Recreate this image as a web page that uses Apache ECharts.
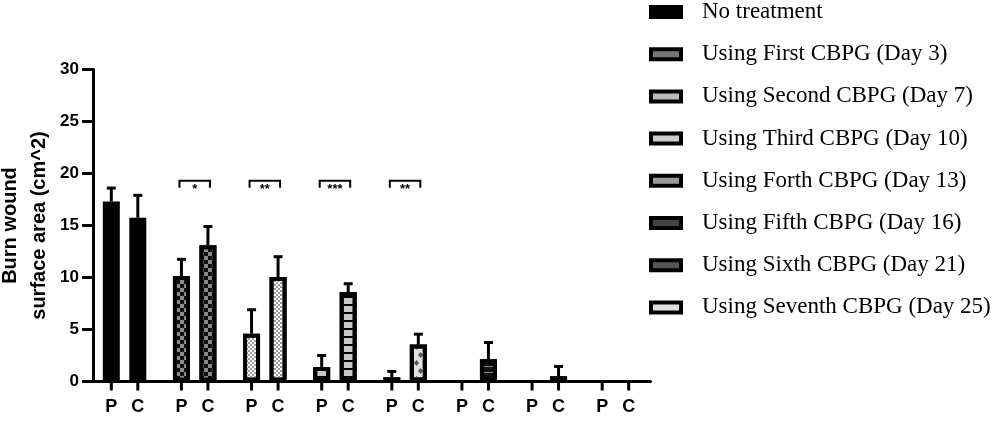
<!DOCTYPE html>
<html><head><meta charset="utf-8">
<script src="https://cdn.jsdelivr.net/npm/echarts@6/dist/echarts.min.js"></script>
<style>html,body{margin:0;padding:0;background:#fff}#c{width:1000px;height:423px}</style>
</head><body><div id="c"></div>
<script>
// ---- data ----
const treatments = [
  'No treatment',
  'Using First CBPG (Day 3)',
  'Using Second CBPG (Day 7)',
  'Using Third CBPG (Day 10)',
  'Using Forth CBPG (Day 13)',
  'Using Fifth CBPG (Day 16)',
  'Using Sixth CBPG (Day 21)',
  'Using Seventh CBPG (Day 25)'
];
const subLabels = ['P', 'C'];
const pMean = [17.3, 10.15, 4.6, 1.4, 0.4, 0, 0, 0];
const pSd   = [1.3, 1.6, 2.3, 1.1, 0.57, 0, 0, 0];
const cMean = [15.75, 13.1, 10.05, 8.6, 3.55, 2.15, 0.5, 0];
const cSd   = [2.15, 1.8, 1.95, 0.8, 1.0, 1.6, 0.95, 0];
const sigGroups = [1, 2, 3, 4];
const sigLabels = ['*', '**', '***', '**'];
const sigLevel = 19.3;
const yMin = 0, yMax = 30, yInterval = 5;

// ---- styles ----
const BAR_W = 17, SEP = 26.5, CAP = 9;
const SANS = 'Liberation Sans, Arial, sans-serif';
const SERIF = 'Liberation Serif, Times New Roman, serif';
const groupStyles = [
  { color: '#000' },
  { color: '#111', decal: { symbol: 'rect', symbolSize: 1, color: '#8a8a8a', dashArrayX: [[4, 4], [0, 4, 4, 0]], dashArrayY: [4, 0] } },
  { color: '#fff', decal: { symbol: 'rect', symbolSize: 1, color: '#9a9a9a', dashArrayX: [[2, 2], [0, 2, 2, 0]], dashArrayY: [2, 0] } },
  { color: '#c8c8c8', decal: { symbol: 'rect', symbolSize: 1, color: '#000', dashArrayX: [1, 0], dashArrayY: [1.5, 6] } },
  { color: '#e0e0e0', decal: { symbol: 'diamond', symbolSize: 1, color: '#555', dashArrayX: [[5, 4], [0, 4, 5, 0]], dashArrayY: [6, 2] } },
  { color: '#111', decal: { symbol: 'rect', symbolSize: 1, color: '#888', dashArrayX: [1, 0], dashArrayY: [1, 5] } },
  { color: '#111', decal: { symbol: 'rect', symbolSize: 1, color: '#777', dashArrayX: [1, 0], dashArrayY: [1, 6] } },
  { color: '#eee' }
];
const legendColors = ['#000', '#777', '#bbb', '#ccc', '#999', '#444', '#555', '#ddd'];

function barData(vals) {
  return vals.map((v, i) => ({
    value: v === 0 ? null : v,
    itemStyle: Object.assign({ borderColor: '#000', borderWidth: 4 }, groupStyles[i])
  }));
}
function errRender(side) {
  return function (params, api) {
    const i = api.value(0), m = api.value(1), sd = api.value(2);
    if (!(sd > 0)) return null;
    const a = api.coord([i, m]), b = api.coord([i, m + sd]);
    const x = a[0] + side * SEP / 2;
    return { type: 'group', children: [
      { type: 'line', shape: { x1: x, y1: a[1], x2: x, y2: b[1] }, style: { stroke: '#000', lineWidth: 3 } },
      { type: 'line', shape: { x1: x - CAP / 2, y1: b[1], x2: x + CAP / 2, y2: b[1] }, style: { stroke: '#000', lineWidth: 3 } }
    ] };
  };
}
function tickRender(params, api) {
  const a = api.coord([api.value(0), 0]);
  return { type: 'group', children: [-1, 1].map(s => ({
    type: 'line', shape: { x1: a[0] + s * SEP / 2, y1: a[1], x2: a[0] + s * SEP / 2, y2: a[1] + 9 },
    style: { stroke: '#000', lineWidth: 3 }
  })) };
}
function sigRender(params, api) {
  const a = api.coord([api.value(0), api.value(1)]);
  const hw = SEP / 2 + 2, y = a[1], x = a[0];
  return { type: 'group', children: [
    { type: 'polyline', shape: { points: [[x - hw, y + 7], [x - hw, y], [x + hw, y], [x + hw, y + 7]] },
      style: { stroke: '#000', lineWidth: 2, fill: null } },
    { type: 'text', x: x, y: y + 2, style: { text: sigLabels[params.dataIndex], fill: '#000',
      font: 'bold 13px ' + SANS, align: 'center', verticalAlign: 'top' } }
  ] };
}

const chart = echarts.init(document.getElementById('c'), null, { renderer: 'canvas' });
const legendSeries = treatments.map((t, i) => ({
  name: t, type: 'bar', xAxisIndex: 1, yAxisIndex: 1, data: [],
  itemStyle: { color: legendColors[i], borderColor: '#000', borderWidth: 4 }
}));
chart.setOption({
  animation: false,
  backgroundColor: '#fff',
  grid: { left: 89.5, right: 349.5, top: 69.5, bottom: 41.5, containLabel: false, outerBoundsMode: 'none' },
  legend: {
    orient: 'vertical', left: 649, top: 0, padding: 0, itemWidth: 30, itemHeight: 10, itemGap: 18.2,
    icon: 'rect', selectedMode: false,
    itemStyle: { borderWidth: 4, borderColor: '#000' },
    textStyle: { fontFamily: SERIF, fontSize: 23, color: '#000', lineHeight: 24, padding: [0, 0, 0, 16] },
    data: treatments
  },
  xAxis: [
    {
      type: 'category', data: treatments,
      axisLine: { lineStyle: { color: '#000', width: 3 } },
      axisTick: { show: false },
      axisLabel: {
        interval: 0, margin: 17,
        formatter: () => '{p|' + subLabels[0] + '}{c|' + subLabels[1] + '}',
        rich: {
          p: { width: SEP, align: 'center', fontSize: 18, fontWeight: 'bold', fontFamily: SANS, color: '#000' },
          c: { width: SEP, align: 'center', fontSize: 18, fontWeight: 'bold', fontFamily: SANS, color: '#000' }
        }
      }
    },
    { type: 'category', show: false, data: ['x'] }
  ],
  yAxis: [
    {
      type: 'value', min: yMin, max: yMax, interval: yInterval, offset: -3.5,
      name: 'Burn wound\nsurface area (cm^2)', nameLocation: 'middle', nameGap: 39, nameMoveOverlap: false,
      nameTextStyle: { fontFamily: SANS, fontSize: 20, fontWeight: 'bold', color: '#000', lineHeight: 29 },
      axisLine: { show: true, lineStyle: { color: '#000', width: 3 } },
      axisTick: { show: true, length: 11, lineStyle: { color: '#000', width: 3 } },
      splitLine: { show: false },
      axisLabel: { fontFamily: SANS, fontSize: 17, fontWeight: 'bold', color: '#000', margin: 14 }
    },
    { type: 'value', show: false }
  ],
  series: [
    { name: 'P', type: 'bar', barWidth: BAR_W, barGap: ((SEP - BAR_W) / BAR_W * 100) + '%', data: barData(pMean), z: 2 },
    { name: 'C', type: 'bar', barWidth: BAR_W, data: barData(cMean), z: 2 },
    { type: 'custom', renderItem: errRender(-1), data: pMean.map((m, i) => [i, m, pSd[i]]), z: 3 },
    { type: 'custom', renderItem: errRender(1), data: cMean.map((m, i) => [i, m, cSd[i]]), z: 3 },
    { type: 'custom', renderItem: tickRender, data: treatments.map((t, i) => [i, 0]), z: 3 },
    { type: 'custom', renderItem: sigRender, data: sigGroups.map(g => [g, sigLevel]), z: 3 }
  ].concat(legendSeries)
});
</script></body></html>
